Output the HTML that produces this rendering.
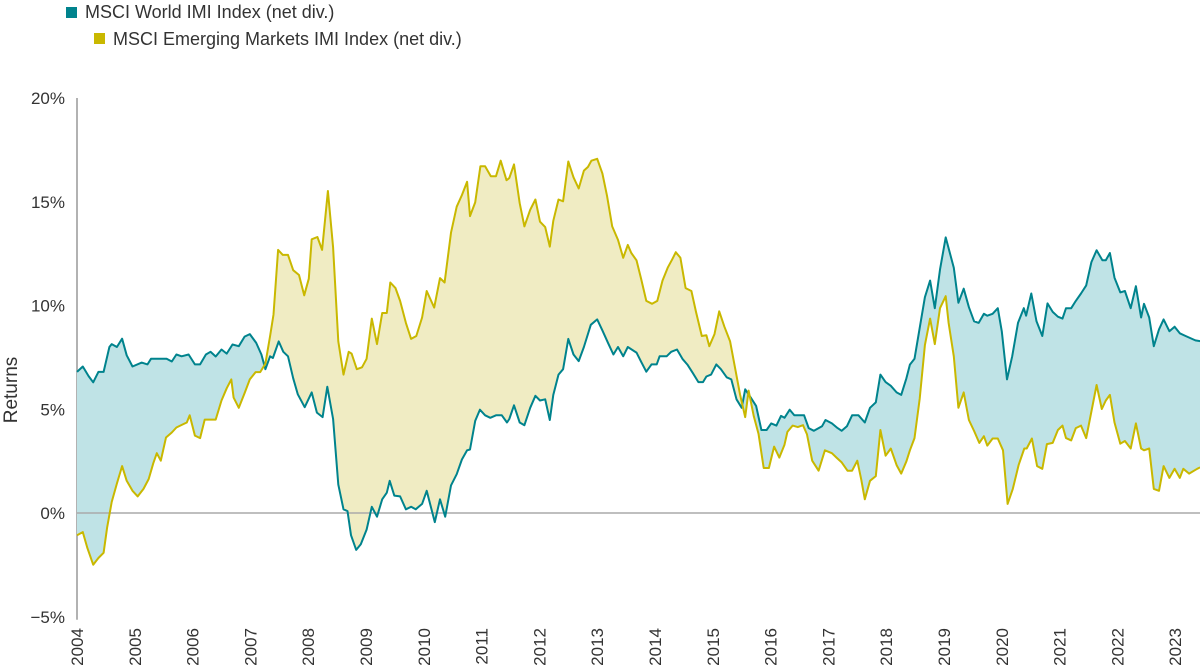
<!DOCTYPE html>
<html><head><meta charset="utf-8">
<style>
html,body{margin:0;padding:0;background:#fff;width:1200px;height:668px;overflow:hidden}
svg{display:block;font-family:"Liberation Sans Narrow","Liberation Sans",sans-serif}
</style></head>
<body>
<svg id="chart" width="1200" height="668" viewBox="0 0 1200 668">
  <g>
    <g>
      <rect x="66" y="7" width="11" height="11" fill="#00838d"/>
      <text x="85" y="18" font-size="18" fill="#333">MSCI World IMI Index (net div.)</text>
    </g>
    <g>
      <rect x="94" y="33" width="11" height="11" fill="#c9b800"/>
      <text x="113" y="45" font-size="18" fill="#333">MSCI Emerging Markets IMI Index (net div.)</text>
    </g>
  </g>
  <text transform="translate(17,390) rotate(-90)" text-anchor="middle" font-size="19" fill="#333">Returns</text>
  <g id="yticks"></g>
  <g id="xticks"></g>
  <defs>
    <clipPath id="clipAbove"><polygon id="clipAbovePoly"/></clipPath>
    <clipPath id="clipBelow"><polygon id="clipBelowPoly"/></clipPath>
  </defs>
  <g id="plot"></g>
</svg>
<script>
const yTicks = [20, 15, 10, 5, 0, -5];
const xYears = [2004,2005,2006,2007,2008,2009,2010,2011,2012,2013,2014,2015,2016,2017,2018,2019,2020,2021,2022,2023];
const worldDates = [2004.0,2004.1,2004.2,2004.28,2004.37,2004.46,2004.56,2004.6,2004.69,2004.78,2004.86,2004.96,2005.12,2005.22,2005.28,2005.55,2005.64,2005.72,2005.81,2005.93,2006.04,2006.13,2006.23,2006.31,2006.4,2006.5,2006.59,2006.69,2006.8,2006.9,2006.99,2007.1,2007.19,2007.26,2007.34,2007.39,2007.49,2007.57,2007.65,2007.74,2007.82,2007.94,2008.06,2008.15,2008.25,2008.33,2008.43,2008.52,2008.61,2008.68,2008.74,2008.83,2008.91,2009.01,2009.1,2009.19,2009.28,2009.36,2009.41,2009.49,2009.59,2009.69,2009.78,2009.86,2009.97,2010.05,2010.19,2010.28,2010.37,2010.47,2010.57,2010.66,2010.75,2010.8,2010.89,2010.97,2011.06,2011.15,2011.25,2011.35,2011.44,2011.48,2011.56,2011.66,2011.74,2011.84,2011.93,2012.01,2012.1,2012.18,2012.24,2012.33,2012.41,2012.5,2012.59,2012.68,2012.77,2012.89,2013.0,2013.09,2013.19,2013.28,2013.36,2013.45,2013.53,2013.68,2013.76,2013.85,2013.94,2014.03,2014.08,2014.2,2014.28,2014.38,2014.48,2014.56,2014.65,2014.75,2014.83,2014.89,2014.97,2015.06,2015.14,2015.24,2015.32,2015.41,2015.5,2015.56,2015.66,2015.75,2015.84,2015.93,2016.01,2016.1,2016.18,2016.24,2016.33,2016.41,2016.51,2016.58,2016.66,2016.75,2016.89,2016.95,2017.06,2017.16,2017.23,2017.32,2017.41,2017.52,2017.63,2017.72,2017.82,2017.9,2017.99,2018.08,2018.18,2018.26,2018.35,2018.41,2018.49,2018.58,2018.67,2018.76,2018.84,2018.93,2019.03,2019.17,2019.25,2019.34,2019.43,2019.52,2019.6,2019.69,2019.75,2019.84,2019.93,2020.0,2020.09,2020.18,2020.28,2020.38,2020.42,2020.51,2020.6,2020.7,2020.79,2020.88,2020.97,2021.05,2021.11,2021.2,2021.28,2021.37,2021.46,2021.55,2021.64,2021.74,2021.8,2021.87,2021.95,2022.05,2022.13,2022.23,2022.32,2022.41,2022.46,2022.55,2022.63,2022.72,2022.8,2022.9,2022.99,2023.08,2023.18,2023.35,2023.43];
const worldValues = [6.8,7.06,6.6,6.3,6.8,6.8,8.0,8.14,8.0,8.4,7.6,7.06,7.25,7.16,7.43,7.43,7.3,7.64,7.55,7.64,7.16,7.16,7.64,7.77,7.54,7.88,7.68,8.12,8.04,8.5,8.62,8.2,7.64,6.93,7.55,7.47,8.27,7.77,7.55,6.49,5.72,5.1,5.81,4.84,4.62,6.08,4.53,1.37,0.18,0.09,-1.07,-1.78,-1.51,-0.8,0.3,-0.18,0.66,0.98,1.55,0.84,0.8,0.18,0.3,0.18,0.44,1.07,-0.44,0.66,-0.18,1.33,1.87,2.58,3.02,3.06,4.44,4.98,4.71,4.59,4.71,4.71,4.36,4.53,5.19,4.36,4.23,5.07,5.65,5.42,5.48,4.48,5.69,6.67,6.93,8.39,7.64,7.32,8.0,9.07,9.33,8.8,8.18,7.64,8.0,7.55,8.0,7.73,7.29,6.81,7.16,7.16,7.55,7.55,7.77,7.88,7.41,7.15,6.76,6.31,6.31,6.58,6.67,7.16,6.93,6.54,6.44,5.48,5.07,5.96,5.55,5.16,4.0,4.0,4.32,4.21,4.68,4.59,4.98,4.71,4.71,4.71,4.09,3.96,4.18,4.48,4.32,4.09,3.96,4.18,4.71,4.71,4.36,5.07,5.33,6.67,6.31,6.13,5.81,5.69,6.49,7.15,7.43,8.92,10.4,11.2,9.87,11.73,13.28,11.82,10.13,10.81,9.92,9.24,9.16,9.6,9.51,9.6,9.87,8.75,6.44,7.55,9.16,9.87,9.51,10.58,9.24,8.53,10.1,9.69,9.46,9.37,9.87,9.87,10.22,10.58,10.97,12.09,12.66,12.18,12.18,12.53,11.34,10.63,10.7,9.87,10.93,9.42,10.08,9.42,8.04,8.85,9.33,8.76,8.98,8.66,8.53,8.32,8.28];
const emDates = [2004.0,2004.1,2004.18,2004.28,2004.37,2004.46,2004.52,2004.6,2004.69,2004.78,2004.86,2004.96,2005.05,2005.15,2005.24,2005.32,2005.38,2005.45,2005.54,2005.64,2005.72,2005.83,2005.9,2005.95,2006.04,2006.13,2006.21,2006.4,2006.5,2006.59,2006.67,2006.71,2006.8,2006.9,2006.99,2007.09,2007.17,2007.26,2007.34,2007.4,2007.48,2007.56,2007.65,2007.74,2007.84,2007.93,2008.01,2008.06,2008.16,2008.24,2008.34,2008.43,2008.52,2008.61,2008.7,2008.75,2008.84,2008.93,2009.01,2009.1,2009.19,2009.28,2009.36,2009.42,2009.51,2009.59,2009.69,2009.78,2009.87,2009.97,2010.05,2010.18,2010.28,2010.36,2010.47,2010.57,2010.66,2010.75,2010.8,2010.89,2010.98,2011.06,2011.16,2011.25,2011.33,2011.43,2011.48,2011.56,2011.66,2011.74,2011.84,2011.93,2012.01,2012.1,2012.18,2012.24,2012.33,2012.41,2012.5,2012.59,2012.68,2012.77,2012.84,2012.9,2013.0,2013.09,2013.17,2013.26,2013.36,2013.45,2013.53,2013.59,2013.68,2013.76,2013.85,2013.95,2014.04,2014.13,2014.22,2014.3,2014.36,2014.44,2014.53,2014.63,2014.71,2014.81,2014.89,2014.94,2015.03,2015.11,2015.2,2015.3,2015.39,2015.47,2015.56,2015.62,2015.71,2015.79,2015.88,2015.97,2016.06,2016.15,2016.24,2016.29,2016.38,2016.47,2016.56,2016.63,2016.72,2016.83,2016.94,2017.06,2017.14,2017.23,2017.33,2017.41,2017.5,2017.57,2017.63,2017.72,2017.82,2017.9,2017.99,2018.08,2018.18,2018.26,2018.35,2018.41,2018.49,2018.58,2018.67,2018.76,2018.84,2018.93,2019.03,2019.08,2019.17,2019.25,2019.34,2019.43,2019.52,2019.61,2019.69,2019.75,2019.84,2019.93,2020.02,2020.1,2020.19,2020.29,2020.39,2020.43,2020.52,2020.61,2020.7,2020.78,2020.88,2020.97,2021.05,2021.11,2021.2,2021.28,2021.37,2021.46,2021.55,2021.64,2021.73,2021.8,2021.87,2021.95,2022.05,2022.13,2022.23,2022.32,2022.41,2022.46,2022.55,2022.63,2022.72,2022.8,2022.9,2022.99,2023.08,2023.14,2023.24,2023.38,2023.43];
const emValues = [-1.07,-0.92,-1.69,-2.49,-2.17,-1.92,-0.71,0.53,1.42,2.26,1.55,1.07,0.8,1.16,1.64,2.4,2.88,2.52,3.64,3.88,4.12,4.27,4.36,4.71,3.73,3.61,4.5,4.5,5.42,6.01,6.44,5.56,5.07,5.78,6.44,6.79,6.79,7.2,8.53,9.56,12.68,12.44,12.44,11.7,11.47,10.49,11.29,13.19,13.3,12.68,15.52,12.8,8.27,6.67,7.77,7.68,6.93,7.02,7.43,9.37,8.14,9.64,9.64,11.11,10.84,10.22,9.16,8.39,8.53,9.42,10.7,9.9,11.32,11.11,13.51,14.76,15.32,15.96,14.31,14.97,16.71,16.71,16.23,16.23,16.98,16.04,16.14,16.8,14.93,13.81,14.61,15.11,14.04,13.78,12.84,14.08,15.11,15.02,16.94,16.18,15.64,16.5,16.68,16.98,17.07,16.36,15.29,13.81,13.16,12.3,12.92,12.53,12.18,11.29,10.22,10.08,10.22,11.2,11.82,12.23,12.57,12.3,10.84,10.7,9.69,8.53,8.57,8.04,8.62,9.72,8.98,8.27,6.93,5.72,4.62,5.9,4.66,3.82,2.17,2.17,3.2,2.67,3.29,3.91,4.21,4.14,4.23,3.79,2.52,2.04,3.02,2.88,2.67,2.44,2.04,2.04,2.52,1.6,0.66,1.55,1.78,4.0,2.76,3.11,2.31,1.9,2.49,3.02,3.61,5.51,8.09,9.37,8.14,9.87,10.45,9.16,7.55,5.07,5.81,4.48,3.95,3.38,3.7,3.25,3.59,3.59,3.02,0.44,1.16,2.31,3.11,3.11,3.59,2.26,2.13,3.32,3.38,4.0,4.21,3.61,3.5,4.09,4.21,3.61,4.89,6.17,5.01,5.42,5.69,4.36,3.34,3.47,3.11,4.32,3.11,3.02,3.11,1.16,1.07,2.26,1.69,2.13,1.69,2.13,1.9,2.13,2.2];

const NS = 'http://www.w3.org/2000/svg';
const X0 = 77, PX_PER_YEAR = 57.8, Y0 = 513, PX_PER_PCT = 20.75;
const xScale = yr => X0 + (yr - 2004) * PX_PER_YEAR;
const yScale = v => Y0 - v * PX_PER_PCT;
function mk(tag, attrs, parent){const e=document.createElementNS(NS,tag);for(const k in attrs)e.setAttribute(k,attrs[k]);parent.appendChild(e);return e;}

const yt = document.getElementById('yticks');
yTicks.forEach(v=>{
  const t = mk('text',{x:65,y:yScale(v)+6,'text-anchor':'end','font-size':17,fill:'#333'},yt);
  
  
  t.textContent = (v<0?'\u2212'+Math.abs(v):v)+'%';
});
const yAxisLine = mk('line',{x1:X0,x2:X0,y1:yScale(20),y2:yScale(-5)+3,stroke:'#999','stroke-width':1.5},yt);



const xt = document.getElementById('xticks');
xYears.forEach(yr=>{
  const x = xScale(yr);
  const t = mk('text',{transform:`translate(${x+6},628) rotate(-90)`,'text-anchor':'end','font-size':17,fill:'#333'},xt);
  
  
  t.textContent = yr;
});

const plot = document.getElementById('plot');
const wPts = worldDates.map((d,i)=>[xScale(d),yScale(worldValues[i])]);
const ePts = emDates.map((d,i)=>[xScale(d),yScale(emValues[i])]);
const ps = a => a.map(p=>p[0].toFixed(1)+','+p[1].toFixed(1)).join(' ');
const lastW = wPts[wPts.length-1], firstW = wPts[0];
document.getElementById('clipAbovePoly').setAttribute('points', ps([[firstW[0],0],...wPts,[lastW[0]+5,lastW[1]],[lastW[0]+5,0]]));
document.getElementById('clipBelowPoly').setAttribute('points', ps([[firstW[0],668],...wPts,[lastW[0]+5,lastW[1]],[lastW[0]+5,668]]));
const between = ps([...wPts, ...ePts.slice().reverse()]);
const fillEm = mk('polygon',{points:between,fill:'#f0ecc3','clip-path':'url(#clipAbove)'},plot);


const fillW = mk('polygon',{points:between,fill:'#bfe3e6','clip-path':'url(#clipBelow)'},plot);



const zero = mk('line',{x1:X0,x2:1200,y1:Y0,y2:Y0,stroke:'#aaa','stroke-width':1.5},plot);



const lineW = mk('polyline',{points:ps(wPts),fill:'none',stroke:'#00838d','stroke-width':2,'stroke-linejoin':'round'},plot);


const lineE = mk('polyline',{points:ps(ePts),fill:'none',stroke:'#c9b800','stroke-width':2,'stroke-linejoin':'round'},plot);


</script>
</body></html>
